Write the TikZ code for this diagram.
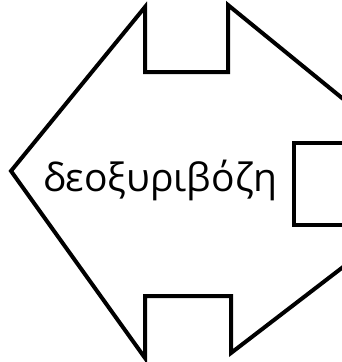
\documentclass[tikz,border=0pt]{standalone}
\usepackage{fontspec}
\newfontfamily\labelfont{Open Sans}
\begin{document}
\begin{tikzpicture}[x=1pt,y=-1pt,
  outline/.style={draw=black,line width=4pt,line join=miter},
  labeltext/.style={font=\labelfont\fontsize{39}{46}\selectfont,inner sep=0pt,anchor=base}]
\useasboundingbox (0,0) rectangle (342,362);
\clip (0,0) rectangle (342,362);
\draw[outline] (360,112.7) -- (228,5) -- (228,72) -- (145,72) -- (145,7) -- (11,171)
  -- (145,358) -- (145,296) -- (231,296) -- (231,353) -- (360,254);
\draw[outline] (360,143) -- (294,143) -- (294,225) -- (360,225);
\node[labeltext] (lbl) at (160.5,191) {δεοξυριβόζη};
\end{tikzpicture}
\end{document}
